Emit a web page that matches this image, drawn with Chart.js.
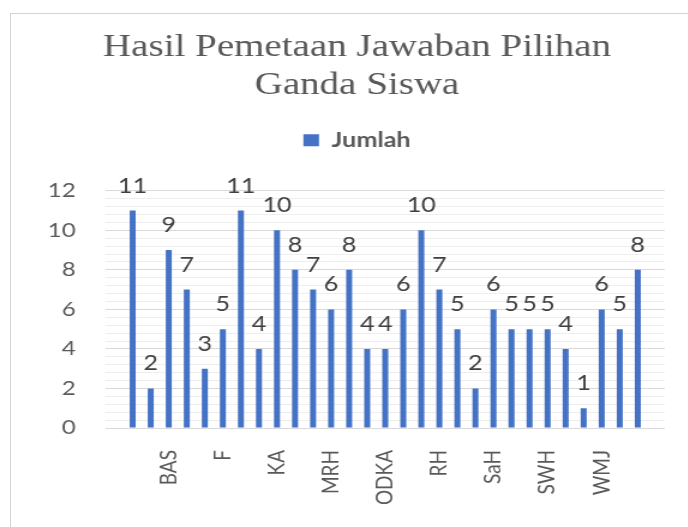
<!DOCTYPE html>
<html>
<head>
<meta charset="utf-8">
<script src="https://cdn.jsdelivr.net/npm/chart.js@4.4.0/dist/chart.umd.min.js"></script>
<style>
  html, body { margin: 0; padding: 0; background: #fff; }
  body { width: 688px; height: 527px; position: relative; overflow: hidden; }
  #frame { position: absolute; left: 10px; top: 13px; width: 760px; height: 600px;
           border-left: 1px solid #d4d4d4; border-top: 1px solid #d4d4d4; }
  #chart { position: absolute; left: 0; top: 0; transform: scaleX(1.2); transform-origin: 0 0; }
</style>
</head>
<body>
<div id="frame"></div>
<canvas id="chart" width="573" height="527"></canvas>
<script>
// categories (only every third name is printed on the axis)
const categories = ['', '', '', 'BAS', '', '', 'F', '', '', 'KA', '', '', 'MRH', '', '',
  'ODKA', '', '', 'RH', '', '', 'SaH', '', '', 'SWH', '', '', 'WMJ', '', '', ''];
// jumlah per category
const jumlah = [null, 11, 2, 9, 7, 3, 5, 11, 4, 10, 8, 7, 6, 8, 4, 4, 6, 10, 7, 5, 2,
  6, 5, 5, 5, 4, 1, 6, 5, 8, null];
const yMin = 0;
const yMax = 12;
const yMajorStep = 2;
const yMinorStep = 0.4;

const sans = 'Lato, "Open Sans", sans-serif';
const grey = '#595959';

function isMajor(v) {
    return Math.abs(v / yMajorStep - Math.round(v / yMajorStep)) < 1e-6;
}

// value labels above the bars
const valueLabels = {
    id: 'valueLabels',
    afterDatasetsDraw(chart) {
        const ctx = chart.ctx;
        const meta = chart.getDatasetMeta(0);
        ctx.save();
        ctx.font = '21px ' + sans;
        ctx.fillStyle = '#404040';
        ctx.textAlign = 'center';
        ctx.textBaseline = 'alphabetic';
        meta.data.forEach((bar, i) => {
            const v = chart.data.datasets[0].data[i];
            if (v === null || v === undefined) return;
            ctx.fillText(String(v), bar.x, bar.y - 18);
        });
        ctx.restore();
    }
};

// extra room below the legend
const legendSpace = {
    id: 'legendSpace',
    beforeInit(chart) {
        const fit = chart.legend.fit;
        chart.legend.fit = function () {
            fit.bind(chart.legend)();
            this.height += 30;
        };
    }
};

new Chart(document.getElementById('chart'), {
    type: 'bar',
    data: {
        labels: categories,
        datasets: [{
            label: 'Jumlah',
            data: jumlah,
            backgroundColor: '#4472C4',
            barPercentage: 0.4,
            categoryPercentage: 0.83
        }]
    },
    options: {
        responsive: false,
        animation: false,
        layout: { padding: { left: 41, right: 19, top: 14, bottom: 0 } },
        plugins: {
            title: {
                display: true,
                text: ['Hasil Pemetaan Jawaban Pilihan', 'Ganda Siswa'],
                color: grey,
                font: { family: '"Liberation Serif", "Times New Roman", serif', size: 32.5, weight: 'normal', lineHeight: 1.15 },
                padding: { top: 15, bottom: 16 }
            },
            legend: {
                position: 'top',
                labels: {
                    color: grey,
                    font: { family: sans, size: 21, weight: 'bold' },
                    boxWidth: 13,
                    boxHeight: 12,
                    padding: 10
                }
            },
            tooltip: { enabled: false }
        },
        scales: {
            x: {
                grid: { display: false, drawTicks: false },
                border: { display: false },
                afterFit: scale => {
                    scale.height = 99;
                    scale.paddingLeft = 0;
                    scale.paddingRight = 0;
                },
                ticks: {
                    autoSkip: false,
                    maxRotation: 90,
                    minRotation: 90,
                    padding: 22,
                    color: grey,
                    font: { family: sans, size: 19 }
                }
            },
            y: {
                min: yMin,
                max: yMax,
                border: { display: false },
                afterFit: scale => { scale.width = 47; },
                grid: {
                    drawTicks: false,
                    color: ctx => isMajor(ctx.tick.value) ? '#d9d9d9' : '#eeeeee'
                },
                ticks: {
                    stepSize: yMinorStep,
                    autoSkip: false,
                    padding: 25,
                    color: grey,
                    font: { family: sans, size: 20 },
                    callback: v => isMajor(v) ? String(Math.round(v)) : ''
                }
            }
        }
    },
    plugins: [valueLabels, legendSpace]
});
</script>
</body>
</html>
